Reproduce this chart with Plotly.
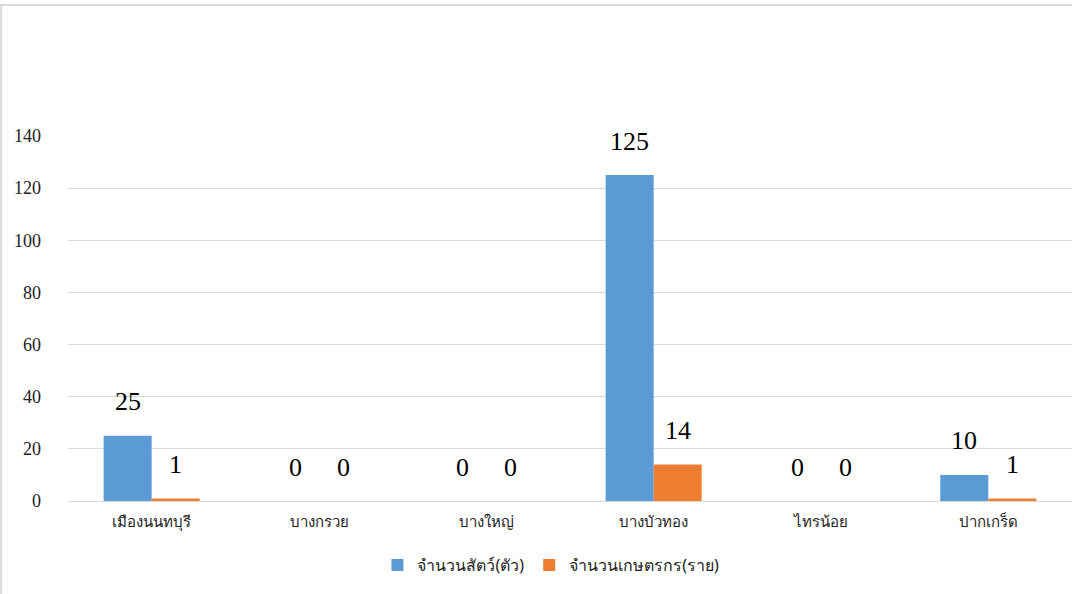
import plotly.graph_objects as go

categories = ["เมืองนนทบุรี", "บางกรวย", "บางใหญ่", "บางบัวทอง", "ไทรน้อย", "ปากเกร็ด"]
animals = [25, 0, 0, 125, 0, 10]
farmers = [1, 0, 0, 14, 0, 1]
series_names = ["จำนวนสัตว์(ตัว)", "จำนวนเกษตรกร(ราย)"]
colors = ["#5B9BD5", "#ED7D31"]
y_ticks = [0, 20, 40, 60, 80, 100, 120, 140]

SERIF = "Times New Roman, Liberation Serif, DejaVu Serif, serif"
THAI = "Noto Sans, Tahoma, sans-serif"

fig = go.Figure()
for name, vals, col in zip(series_names, [animals, farmers], colors):
    fig.add_trace(go.Bar(x=categories, y=vals, name=name, marker_color=col,
                         marker_line_width=0))

annotations = []
for vals, shift in [(animals, -24), (farmers, 24)]:
    for c, v in zip(categories, vals):
        annotations.append(dict(x=c, y=v, xref="x", yref="y", text=str(v),
                                showarrow=False, xshift=shift, yshift=34,
                                yanchor="middle",
                                font=dict(family=SERIF, size=26, color="#000000")))

L, R, T, B = 68, 0, 136, 93
W, H = 1072, 594
pw = W - L - R
ph = H - T - B

fig.update_layout(
    width=W, height=H,
    margin=dict(l=L, r=R, t=T, b=B),
    paper_bgcolor="white", plot_bgcolor="white",
    barmode="group", bargap=0.426, bargroupgap=0,
    annotations=annotations,
    showlegend=True,
    legend=dict(orientation="h", x=0.481, xanchor="center",
                y=((H - B) - 565) / ph, yanchor="middle",
                font=dict(family=THAI, size=16, color="#222222"),
                itemwidth=30, traceorder="normal"),
    xaxis=dict(showgrid=False, showline=False, zeroline=False,
               ticklabelstandoff=10,
               tickfont=dict(family=THAI, size=15, color="#222222")),
    yaxis=dict(range=[0, 140], tickvals=y_ticks, showgrid=True, gridcolor="#d9d9d9",
               gridwidth=1, zeroline=True, zerolinecolor="#d9d9d9", zerolinewidth=1,
               showline=False, ticklabelstandoff=26,
               tickfont=dict(family=SERIF, size=18, color="#222222")),
    shapes=[
        dict(type="line", xref="paper", yref="paper",
             x0=-L / pw, x1=1.0, y0=(H - B - 5) / ph, y1=(H - B - 5) / ph,
             line=dict(color="#d0d0d0", width=1.5)),
        dict(type="line", xref="paper", yref="paper",
             x0=-(L - 1) / pw, x1=-(L - 1) / pw, y0=(H - B - 5) / ph, y1=-B / ph,
             line=dict(color="#d0d0d0", width=1.5)),
    ],
)

fig.write_html("out.html", config={"displayModeBar": False},
               post_script="document.body.style.margin='0';document.body.style.overflow='hidden';")
